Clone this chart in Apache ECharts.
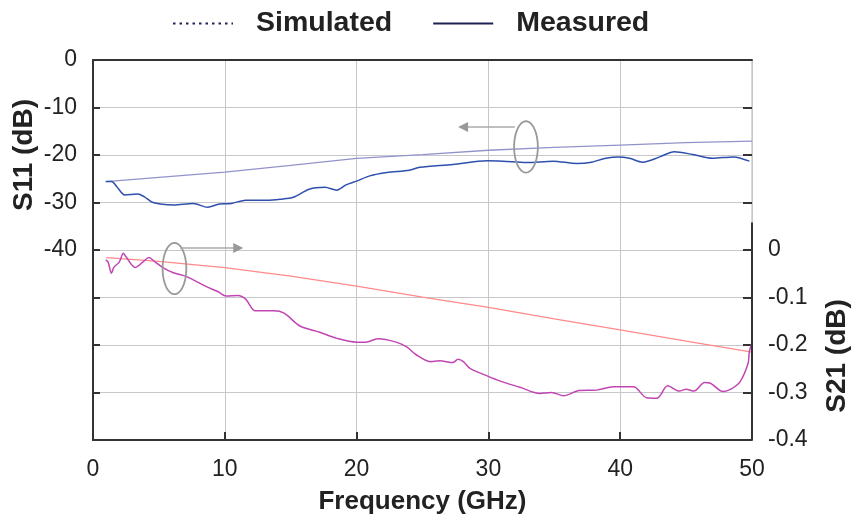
<!DOCTYPE html>
<html>
<head>
<meta charset="utf-8">
<script src="https://cdn.jsdelivr.net/npm/echarts@6/dist/echarts.min.js"></script>
<style>
  html, body { margin: 0; padding: 0; background: #fff; }
  #chart { width: 853px; height: 521px; }
</style>
</head>
<body>
<div id="chart"></div>
<script>
// simulated curves, read every 5 GHz
const simFreq = [1, 5, 10, 15, 20, 25, 30, 35, 40, 45, 50];
const s11Sim = [-25.6, -24.7, -23.6, -22.2, -20.7, -19.9, -19.0, -18.4, -17.9, -17.4, -17.1];
const s21Sim = [-0.016, -0.024, -0.037, -0.055, -0.076, -0.099, -0.121, -0.145, -0.168, -0.192, -0.215];

// measured S11
const s11MeasFreq = [0.96, 1.4, 1.9, 2.4, 3.4, 3.9, 4.55, 6.1, 7.6, 8.7, 9.6, 10.5, 11.6, 13.2, 14.2, 15.2,
  16.4, 17.6, 18.5, 19.2, 20.0, 21.0, 22.3, 24.0, 24.8, 27.3, 29.9, 31.1, 32.9, 34.9, 36.7, 37.7,
  38.9, 39.9, 40.7, 41.7, 43.0, 44.1, 45.5, 47.0, 48.6, 49.8];
const s11Meas = [-25.6, -25.6, -27.0, -28.4, -28.2, -28.8, -30.0, -30.5, -30.2, -31.0, -30.3, -30.2, -29.5, -29.5, -29.3, -28.9,
  -27.2, -26.8, -27.4, -26.3, -25.5, -24.4, -23.7, -23.2, -22.6, -22.0, -21.2, -21.3, -21.6, -21.3, -21.8, -21.6,
  -20.7, -20.4, -20.7, -21.5, -20.4, -19.3, -19.9, -20.7, -20.4, -21.3];

// measured S21
const s21MeasFreq = [0.96, 1.14, 1.4, 1.57, 2.0, 2.3, 2.5, 3.2, 3.8, 4.25, 4.7, 5.3, 6.1, 7.1, 8.6, 9.5, 10.1, 11.0, 11.6,
  12.3, 13.7, 14.5, 15.7, 17.2, 18.5, 20.0, 20.7, 21.6, 23.0, 23.8, 24.5, 25.6, 26.3, 27.3, 27.7, 28.1, 28.6,
  29.9, 30.9, 32.4, 33.9, 34.8, 35.7, 36.9, 38.2, 39.5, 41.0, 42.0, 42.8, 43.6, 44.5, 45.0, 45.6, 46.4, 46.8,
  47.8, 48.4, 49.1, 49.7, 49.8, 50.0];
const s21Meas = [-0.021, -0.025, -0.049, -0.037, -0.025, -0.007, -0.014, -0.037, -0.025, -0.016, -0.025, -0.037, -0.048, -0.056, -0.077, -0.088, -0.097, -0.096, -0.104,
  -0.128, -0.128, -0.133, -0.160, -0.173, -0.186, -0.194, -0.194, -0.187, -0.194, -0.204, -0.220, -0.235, -0.233, -0.237, -0.230, -0.235, -0.249,
  -0.265, -0.276, -0.289, -0.302, -0.300, -0.307, -0.296, -0.295, -0.288, -0.288, -0.311, -0.312, -0.286, -0.297, -0.293, -0.297, -0.279, -0.280,
  -0.298, -0.293, -0.277, -0.239, -0.214, -0.196];

// ellipse centre (GHz, dB), arrow start GHz, arrow tip GHz, arrow level dB
const callouts = [
  [32.85, -18.3, 32.0, 27.7, -14.1],
  [6.18, -43.9, 6.6, 11.4, -39.6]
];

const font = 'Liberation Sans, Arial, sans-serif';
const zip = (xs, ys) => xs.map((x, i) => [x, ys[i]]);

let myChart = echarts.init(document.getElementById('chart'));

let option = {
  animation: false,
  backgroundColor: '#fff',
  grid: {
    left: 93, right: 101, top: 60, bottom: 81,
    show: true, borderColor: '#b4b4b8', borderWidth: 1
  },
  legend: {
    data: ['Simulated', 'Measured'],
    left: 167, top: 4,
    itemWidth: 60, itemHeight: 14, itemGap: 40,
    selectedMode: false,
    itemStyle: { opacity: 0 },
    textStyle: { fontSize: 28.5, fontWeight: 'bold', color: '#222', fontFamily: font, padding: [0, 0, 0, 18] }
  },
  xAxis: [{
    type: 'value', min: 0, max: 50, interval: 10,
    name: 'Frequency (GHz)', nameLocation: 'middle', nameGap: 49,
    nameTextStyle: { fontSize: 26, fontWeight: 'bold', color: '#222', fontFamily: font },
    axisLine: { onZero: false, lineStyle: { color: '#333', width: 2 } },
    axisTick: { inside: true, length: 8, lineStyle: { color: '#333', width: 2 } },
    axisLabel: { fontSize: 23, color: '#222', fontFamily: font, margin: 18 },
    splitLine: { lineStyle: { color: '#c6c6cc' } }
  }, {
    type: 'value', min: 0, max: 50, position: 'top',
    axisLine: { onZero: false, lineStyle: { color: '#333', width: 2 } },
    axisTick: { show: false }, axisLabel: { show: false }, splitLine: { show: false }
  }],
  yAxis: [{
    type: 'value', min: -80, max: 0, interval: 10,
    axisLine: { show: true, onZero: false, lineStyle: { color: '#333', width: 2 } },
    axisTick: { show: true, inside: true, length: 7, lineStyle: { color: '#333', width: 2 } },
    axisLabel: {
      fontSize: 23, color: '#222', fontFamily: font, margin: 16,
      formatter: v => (v < -40 ? '' : String(v))
    },
    splitLine: { lineStyle: { color: '#c6c6cc' } }
  }, {
    type: 'value', min: -0.4, max: 0.4, interval: 0.1, position: 'right',
    axisLine: { show: false, onZero: false },
    axisTick: { show: true, inside: true, length: 9, lineStyle: { color: '#333', width: 2 } },
    axisLabel: {
      fontSize: 23, color: '#222', fontFamily: font, margin: 16,
      formatter: v => (v > 0.001 ? '' : (Math.abs(v) < 0.001 ? '0' : v.toFixed(1)))
    },
    splitLine: { show: false }
  }],
  graphic: [{
    type: 'text', x: 24, y: 155, rotation: Math.PI / 2,
    style: { text: 'S11 (dB)', fontSize: 28, fontWeight: 'bold', fill: '#222', fontFamily: font, align: 'center', verticalAlign: 'middle' }
  }, {
    type: 'text', x: 837, y: 356, rotation: Math.PI / 2,
    style: { text: 'S21 (dB)', fontSize: 28, fontWeight: 'bold', fill: '#222', fontFamily: font, align: 'center', verticalAlign: 'middle' }
  }],
  series: [
    {
      name: 'Simulated', type: 'line', data: [], symbol: 'none',
      lineStyle: { color: '#1e2152', width: 3, type: [2.5, 4] }, itemStyle: { color: '#1e2152' }
    },
    {
      name: 'Measured', type: 'line', data: [], symbol: 'none',
      lineStyle: { color: '#1e2152', width: 3 }, itemStyle: { color: '#1e2152' }
    },
    {
      name: 'S11 simulated', type: 'line', symbol: 'none', silent: true,
      xAxisIndex: 0, yAxisIndex: 0,
      lineStyle: { color: '#9393cc', width: 1.3 },
      data: zip(simFreq, s11Sim)
    },
    {
      name: 'S11 measured', type: 'line', symbol: 'none', silent: true, smooth: 0.3,
      xAxisIndex: 0, yAxisIndex: 0,
      lineStyle: { color: '#2f4fae', width: 1.5 },
      data: zip(s11MeasFreq, s11Meas)
    },
    {
      name: 'S21 simulated', type: 'line', symbol: 'none', silent: true,
      xAxisIndex: 0, yAxisIndex: 1,
      lineStyle: { color: '#ff8a8a', width: 1.3 },
      data: zip(simFreq, s21Sim)
    },
    {
      name: 'S21 measured', type: 'line', symbol: 'none', silent: true, smooth: 0.3,
      xAxisIndex: 0, yAxisIndex: 1,
      lineStyle: { color: '#c146b4', width: 1.5 },
      data: zip(s21MeasFreq, s21Meas),
      markLine: {
        silent: true, symbol: 'none', label: { show: false },
        lineStyle: { color: '#333', width: 2, type: 'solid' },
        data: [[{ coord: [50, -0.4] }, { coord: [50, 0.058] }]]
      }
    },
    {
      name: 'callouts', type: 'custom', silent: true, clip: false, z: 5,
      xAxisIndex: 0, yAxisIndex: 0,
      data: callouts,
      renderItem: function (params, api) {
        const c = api.coord([api.value(0), api.value(1)]);
        const r = api.size([0.9, 5.4]);
        const pts = [];
        for (let i = 0; i < 60; i++) {
          const a = i / 60 * Math.PI * 2;
          pts.push([c[0] + r[0] * Math.cos(a), c[1] + r[1] * Math.sin(a)]);
        }
        const p0 = api.coord([api.value(2), api.value(4)]);
        const p1 = api.coord([api.value(3), api.value(4)]);
        const dir = p1[0] > p0[0] ? 1 : -1;
        return {
          type: 'group',
          children: [
            { type: 'polygon', shape: { points: pts }, style: { fill: 'none', stroke: '#999', lineWidth: 1.8 } },
            { type: 'line', shape: { x1: p0[0], y1: p0[1], x2: p1[0] - dir * 9, y2: p1[1] }, style: { stroke: '#aaa', lineWidth: 1.5 } },
            { type: 'polygon', shape: { points: [[p1[0], p1[1]], [p1[0] - dir * 10, p1[1] - 5], [p1[0] - dir * 10, p1[1] + 5]] }, style: { fill: '#999' } }
          ]
        };
      }
    }
  ]
};
myChart.setOption(option);
</script>
</body>
</html>
